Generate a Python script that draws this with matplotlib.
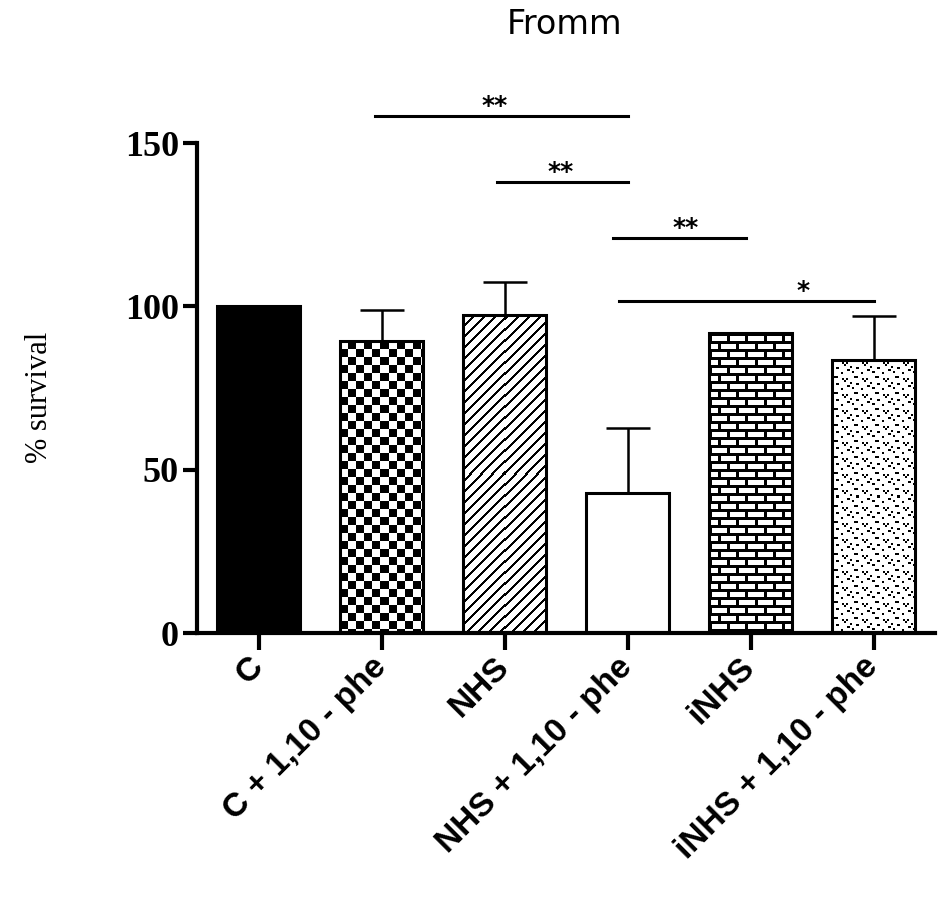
import numpy as np
import matplotlib
matplotlib.use("Agg")
import matplotlib.pyplot as plt

groups = ["C", "C + 1,10 - phe", "NHS", "NHS + 1,10 - phe", "iNHS", "iNHS + 1,10 - phe"]
survival = [100.2, 89.3, 97.4, 42.9, 91.8, 83.6]
err_up = [0.0, 9.6, 9.9, 19.8, 0.0, 13.4]
patterns = ["solid", "checker", "diag", "none", "brick", "dots"]

# significance brackets: (x start, x end, height, label, label x)
sig_x0 = [0.95, 1.94, 2.88, 2.93]
sig_x1 = [3.0, 3.0, 3.96, 5.0]
sig_y = [158.3, 138.0, 120.9, 101.6]
sig_txt = ["**", "**", "**", "*"]
sig_tx = [1.92, 2.46, 3.47, 4.43]


def pattern_img(kind, w, h):
    yy, xx = np.mgrid[0:h, 0:w]
    if kind == "checker":
        return ((yy // 8 + xx // 8) % 2).astype(float)
    if kind == "diag":
        return (((xx + yy) % 11) < 3).astype(float)
    if kind == "brick":
        off = (yy // 8 % 2) * 9
        return (((yy % 8) < 3) | (((xx + off) % 18) < 3)).astype(float)
    if kind == "dots":
        tile = np.zeros((16, 20))
        tile[1:3, 2:6] = 1
        tile[3:5, 10:12] = 1; tile[5:7, 12:14] = 1; tile[3:5, 14:16] = 1
        tile[8:10, 4:7] = 1
        tile[10:12, 15:18] = 1
        tile[12:14, 0:2] = 1
        tile[7:9, 18:20] = 1
        tile[13:15, 9:11] = 1
        ty = np.tile(tile, (h // 16 + 1, w // 20 + 1))
        return ty[:h, :w]
    return np.zeros((h, w))


fig = plt.figure(figsize=(9.5, 9.02), dpi=100)
ax = fig.add_axes([197 / 950, 1 - 633 / 902, 738 / 950, 490 / 902])
x = np.arange(len(groups))
bw = 0.67
XL, YL = (-0.5, 5.5), (0, 150)
ax.set_xlim(*XL)
ax.set_ylim(*YL)

ax.errorbar(x, survival, yerr=[np.zeros(len(x)), err_up], fmt="none", ecolor="black",
            elinewidth=1.8, capsize=16, capthick=1.8, zorder=1)
faces = ["black" if p == "solid" else "white" for p in patterns]
ax.bar(x, survival, width=bw, color=faces, edgecolor="none", zorder=2)

for xi, v, p in zip(x, survival, patterns):
    if p in ("solid", "none"):
        continue
    (px0, py0), (px1, py1) = ax.transData.transform([(xi - bw / 2, 0), (xi + bw / 2, v)])
    w, h = int(round(px1 - px0)), int(round(py1 - py0))
    ax.imshow(pattern_img(p, w, h), cmap="gray_r", vmin=0, vmax=1, interpolation="nearest",
              extent=(xi - bw / 2, xi + bw / 2, 0, v), aspect="auto", zorder=2.5)

ax.bar(x, survival, width=bw, fill=False, edgecolor="black", linewidth=2.2, zorder=3)
ax.set_xlim(*XL)
ax.set_ylim(*YL)

for x0, x1, y, t, tx in zip(sig_x0, sig_x1, sig_y, sig_txt, sig_tx):
    ax.plot([x0, x1], [y, y], color="black", lw=2.2, clip_on=False, zorder=4)
    ax.text(tx, y + 1.0, t, ha="center", va="baseline", fontsize=18,
            fontweight="bold", family="DejaVu Sans", clip_on=False)

for s in ("top", "right"):
    ax.spines[s].set_visible(False)
for s in ("left", "bottom"):
    ax.spines[s].set_linewidth(3)

ax.set_yticks([0, 50, 100, 150])
ax.set_yticklabels(["0", "50", "100", "150"], fontsize=26, fontweight="bold",
                   family="Liberation Serif")
ax.tick_params(axis="y", length=10, width=3, pad=3)
ax.set_xticks(x)
ax.set_xticklabels(groups, fontsize=24, fontweight="bold", family="Liberation Sans")
ax.tick_params(axis="x", length=12, width=3, pad=9)
plt.setp(ax.get_xticklabels(), rotation=45, ha="right", va="center", rotation_mode="anchor")

fig.text(0.042, 1 - 397 / 902, "% survival", rotation=90, ha="center", va="center",
         fontsize=22, family="Liberation Serif")
fig.text(565 / 950, 1 - 25 / 902, "Fromm", ha="center", va="center", fontsize=24,
         family="DejaVu Sans")

fig.savefig("out.png", dpi=100, facecolor="white")
